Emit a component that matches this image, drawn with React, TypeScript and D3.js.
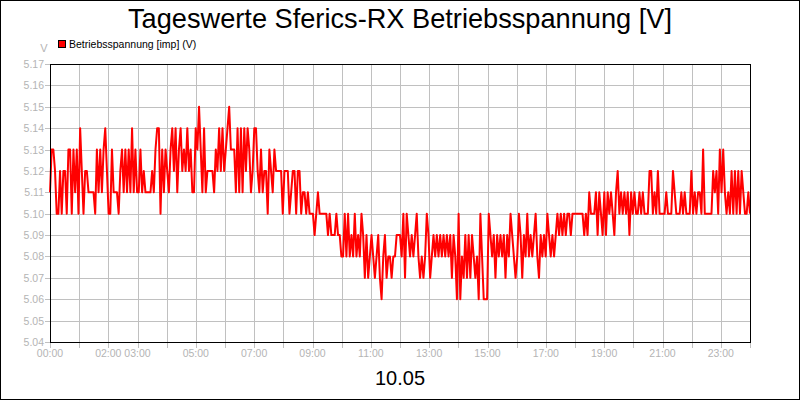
import * as d3 from 'd3';

// Betriebsspannung samples in order (00:00 -> 24:00)
const volts0004 = [
  5.11, 5.13, 5.13, 5.12, 5.10, 5.10, 5.12, 5.10, 5.12, 5.12,
  5.10, 5.13, 5.13, 5.10, 5.13, 5.11, 5.13, 5.10, 5.14, 5.12,
  5.10, 5.12, 5.12, 5.11, 5.11, 5.11, 5.11, 5.10, 5.13, 5.11,
  5.13, 5.11, 5.13, 5.14, 5.12, 5.10, 5.10, 5.13, 5.11, 5.11,
  5.11, 5.10, 5.12, 5.13, 5.11, 5.13, 5.11, 5.13, 5.11, 5.14,
  5.11, 5.13, 5.11, 5.11, 5.13, 5.11, 5.12, 5.11, 5.11, 5.11,
  5.11, 5.12, 5.11, 5.13, 5.14, 5.14, 5.10, 5.13, 5.11, 5.13,
];
const volts0408 = [
  5.12, 5.11, 5.13, 5.14, 5.12, 5.14, 5.11, 5.13, 5.14, 5.12,
  5.13, 5.12, 5.14, 5.12, 5.13, 5.11, 5.11, 5.14, 5.13, 5.15,
  5.13, 5.11, 5.14, 5.11, 5.12, 5.12, 5.12, 5.12, 5.11, 5.13,
  5.12, 5.14, 5.12, 5.14, 5.12, 5.13, 5.14, 5.15, 5.13, 5.13,
  5.13, 5.11, 5.14, 5.11, 5.14, 5.11, 5.14, 5.12, 5.14, 5.13,
  5.11, 5.12, 5.14, 5.14, 5.12, 5.11, 5.13, 5.11, 5.12, 5.12,
  5.10, 5.13, 5.12, 5.11, 5.13, 5.12, 5.12, 5.12, 5.12, 5.10,
  5.12, 5.12,
];
const volts0812 = [
  5.12, 5.10, 5.11, 5.12, 5.12, 5.10, 5.12, 5.12, 5.10, 5.11,
  5.11, 5.10, 5.11, 5.10, 5.10, 5.10, 5.09, 5.10, 5.11, 5.10,
  5.10, 5.10, 5.10, 5.10, 5.09, 5.10, 5.09, 5.09, 5.09, 5.10,
  5.09, 5.09, 5.08, 5.08, 5.10, 5.08, 5.10, 5.08, 5.09, 5.08,
  5.10, 5.08, 5.09, 5.08, 5.10, 5.09, 5.07, 5.09, 5.07, 5.08,
  5.09, 5.08, 5.07, 5.08, 5.09, 5.07, 5.06, 5.08, 5.09, 5.07,
  5.08, 5.08, 5.07, 5.08, 5.08, 5.09, 5.09,
];
const volts1216 = [
  5.09, 5.08, 5.10, 5.07, 5.10, 5.09, 5.08, 5.09, 5.08, 5.09,
  5.10, 5.08, 5.07, 5.08, 5.07, 5.08, 5.10, 5.09, 5.07, 5.08,
  5.09, 5.08, 5.09, 5.08, 5.09, 5.08, 5.09, 5.08, 5.09, 5.08,
  5.09, 5.07, 5.09, 5.08, 5.06, 5.10, 5.06, 5.08, 5.07, 5.09,
  5.07, 5.09, 5.07, 5.09, 5.08, 5.07, 5.08, 5.06, 5.10, 5.08,
  5.06, 5.06, 5.06, 5.10, 5.09, 5.08, 5.09, 5.07, 5.09, 5.08,
  5.09, 5.08, 5.09, 5.07, 5.09, 5.08, 5.10, 5.09, 5.08, 5.07,
];
const volts1620 = [
  5.08, 5.10, 5.09, 5.07, 5.09, 5.08, 5.10, 5.08, 5.09, 5.08,
  5.09, 5.10, 5.08, 5.07, 5.09, 5.08, 5.09, 5.08, 5.10, 5.09,
  5.08, 5.09, 5.08, 5.09, 5.10, 5.09, 5.10, 5.09, 5.10, 5.09,
  5.10, 5.10, 5.09, 5.10, 5.10, 5.10, 5.10, 5.10, 5.10, 5.10,
  5.09, 5.10, 5.09, 5.11, 5.10, 5.10, 5.10, 5.11, 5.09, 5.11,
  5.10, 5.09, 5.11, 5.09, 5.11, 5.10, 5.11, 5.10, 5.09, 5.11,
  5.12, 5.10, 5.11, 5.10, 5.11, 5.10, 5.11, 5.09, 5.11, 5.10,
  5.11, 5.10,
];
const volts2024 = [
  5.10, 5.11, 5.10, 5.11, 5.10, 5.10, 5.10, 5.12, 5.12, 5.10,
  5.11, 5.10, 5.12, 5.10, 5.10, 5.10, 5.10, 5.11, 5.10, 5.10,
  5.10, 5.12, 5.11, 5.10, 5.10, 5.10, 5.11, 5.10, 5.11, 5.10,
  5.10, 5.10, 5.12, 5.10, 5.11, 5.10, 5.11, 5.11, 5.10, 5.13,
  5.10, 5.10, 5.10, 5.10, 5.10, 5.12, 5.11, 5.12, 5.10, 5.13,
  5.11, 5.13, 5.11, 5.10, 5.11, 5.10, 5.12, 5.10, 5.12, 5.10,
  5.12, 5.10, 5.12, 5.11, 5.10, 5.10, 5.11, 5.10,
];

const yTicks = [5.04, 5.05, 5.06, 5.07, 5.08, 5.09, 5.1, 5.11, 5.12, 5.13, 5.14, 5.15, 5.16, 5.17];
const xLabelHours = [0, 2, 3, 5, 7, 9, 11, 13, 15, 17, 19, 21, 23];
const xLabels = ['00:00', '02:00', '03:00', '05:00', '07:00', '09:00', '11:00', '13:00', '15:00', '17:00', '19:00', '21:00', '23:00'];

const title = 'Tageswerte Sferics-RX Betriebsspannung [V]';
const seriesName = 'Betriebsspannung [imp] (V)';
const dayLabel = '10.05';

const volts = [...volts0004, ...volts0408, ...volts0812, ...volts1216, ...volts1620, ...volts2024];

export default function App() {
  const width = 800;
  const height = 400;
  const margin = { top: 64, right: 50, bottom: 58, left: 50 };
  const innerW = width - margin.left - margin.right;
  const innerH = height - margin.top - margin.bottom;

  const x = d3.scaleLinear().domain([0, 24]).range([margin.left, margin.left + innerW]);
  const y = d3.scaleLinear().domain([5.04, 5.17]).range([margin.top + innerH, margin.top]);

  const step = 24 / (volts.length - 1);
  const line = d3
    .line<number>()
    .x((_, i) => x(i * step))
    .y((d) => y(d));

  const hours = d3.range(0, 25);
  const font = "'Liberation Sans', Arial, sans-serif";
  const grey = '#b4b4b4';
  const grid = '#c0c0c0';
  const bottom = margin.top + innerH;

  return (
    <svg
      width={width}
      height={height}
      style={{ position: 'absolute', left: 0, top: 0, display: 'block' }}
      fontFamily={font}
    >
      <rect x={0.5} y={0.5} width={width - 1} height={height - 1} fill="#fff" stroke="#000" />

      <text x={width / 2} y={28} textAnchor="middle" fontSize={27.2} fill="#000">
        {title}
      </text>

      {/* legend */}
      <rect x={58.5} y={40.5} width={7} height={7} fill="#f00" stroke="#000" />
      <text x={69} y={48} fontSize={10.5} fill="#000">
        {seriesName}
      </text>
      <text x={44} y={52} fontSize={11} fill={grey} textAnchor="middle">
        V
      </text>

      {/* grid */}
      {yTicks.map((t) => (
        <g key={t}>
          <line x1={margin.left - 5} x2={margin.left + innerW} y1={Math.round(y(t)) + 0.5} y2={Math.round(y(t)) + 0.5} stroke={grid} />
          <text x={44} y={Math.round(y(t)) + 4} fontSize={10.5} fill={grey} textAnchor="end">
            {t.toFixed(2)}
          </text>
        </g>
      ))}
      {hours.map((h) => (
        <line
          key={h}
          x1={Math.round(x(h)) + 0.5}
          x2={Math.round(x(h)) + 0.5}
          y1={margin.top}
          y2={bottom + 6}
          stroke={grid}
        />
      ))}
      {xLabelHours.map((h, i) => (
        <text key={h} x={x(h)} y={357} fontSize={10.5} fill={grey} textAnchor="middle">
          {xLabels[i]}
        </text>
      ))}

      {/* series */}
      <path d={line(volts) ?? ''} fill="none" stroke="#f00" strokeWidth={2} strokeLinejoin="round" />

      {/* frame */}
      <rect x={margin.left + 0.5} y={margin.top + 0.5} width={innerW} height={innerH} fill="none" stroke="#000" />

      <text x={width / 2} y={385} textAnchor="middle" fontSize={20} fill="#000">
        {dayLabel}
      </text>
    </svg>
  );
}
